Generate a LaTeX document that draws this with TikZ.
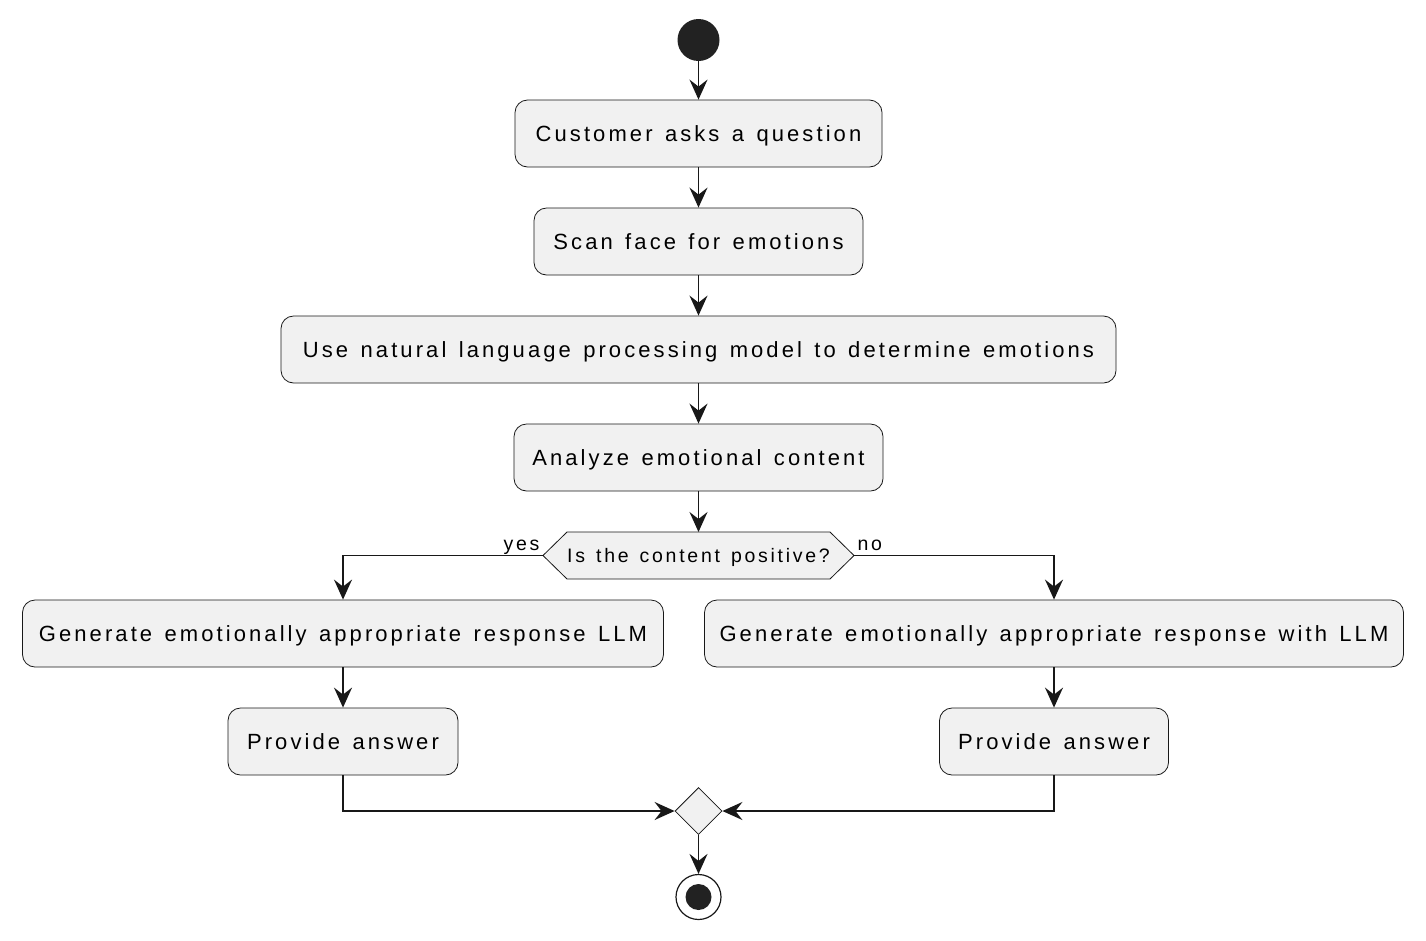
\documentclass[tikz,border=0pt]{standalone}
\usepackage{fontspec}
\setmainfont{Liberation Sans}[LetterSpace=14, WordSpace=1.35]
\usetikzlibrary{arrows.meta,shapes.geometric}
\definecolor{boxfill}{HTML}{F1F1F1}
\definecolor{ink}{HTML}{181818}
\definecolor{dot}{HTML}{222222}
\begin{document}
\begin{tikzpicture}[x=1pt,y=-1pt,
    >={Stealth[length=20pt,width=18pt,inset=7pt]},
    act/.style={draw=ink, fill=boxfill, rounded corners=12.5pt, minimum height=67pt,
      inner sep=0pt, line width=0.8pt, text height=20pt, text depth=4pt,
      font=\fontsize{22}{26}\selectfont},
    small/.style={font=\fontsize{19.5}{23}\selectfont},
    flow/.style={->, draw=ink, line width=1.8pt}]

  \useasboundingbox (0,0) rectangle (1426,940);

  \node[circle, fill=dot, minimum size=42pt, inner sep=0pt] (start) at (698.5,40) {};
  \node[act, minimum width=367pt] (ask)  at (698.5,133.5) {Customer asks a question};
  \node[act, minimum width=329pt] (scan) at (698.5,241.5) {Scan face for emotions};
  \node[act, minimum width=835pt] (nlp)  at (698.5,349.5) {Use natural language processing model to determine emotions};
  \node[act, minimum width=369pt] (ana)  at (698.5,457.5) {Analyze emotional content};

  % decision
  \coordinate (decL) at (543,555.5);
  \coordinate (decR) at (854,555.5);
  \draw[draw=ink, fill=boxfill, line width=0.8pt] (decL) -- ++(24,-23.5) -- ++(263,0)
    -- (decR) -- ++(-24,23.5) -- ++(-263,0) -- cycle;
  \node[small, minimum width=263pt, minimum height=47pt, inner sep=0pt,
    text height=17pt, text depth=4pt] (dec) at (698.5,555.5) {Is the content positive?};
  \node[small, anchor=base east] (yes) at ([yshift=5pt]decL) {yes};
  \node[small, anchor=base west] (no)  at ([yshift=5pt]decR) {no};

  \node[act, minimum width=641pt] (lgen) at (343,633.5) {Generate emotionally appropriate response LLM};
  \node[act, minimum width=699pt] (rgen) at (1054,633.5) {Generate emotionally appropriate response with LLM};
  \node[act, minimum width=230pt] (lans) at (343,741.5) {Provide answer};
  \node[act, minimum width=229pt] (rans) at (1054,741.5) {Provide answer};

  \node[diamond, draw=ink, fill=boxfill, line width=0.8pt, minimum size=47pt, inner sep=0pt] (merge) at (698.5,811) {};
  \node[circle, draw=ink, line width=1.2pt, minimum size=45pt, inner sep=0pt] (stop) at (698.5,897) {};
  \node[circle, fill=dot, minimum size=26pt, inner sep=0pt] (stopin) at (stop.center) {};

  \draw[flow] (start) -- (ask);
  \draw[flow] (ask) -- (scan);
  \draw[flow] (scan) -- (nlp);
  \draw[flow] (nlp) -- (ana);
  \draw[flow] (ana) -- (698.5,532);
  \draw[flow] (decL) -| (lgen);
  \draw[flow] (decR) -| (rgen);
  \draw[flow] (lgen) -- (lans);
  \draw[flow] (rgen) -- (rans);
  \draw[flow] (lans) |- (merge);
  \draw[flow] (rans) |- (merge);
  \draw[flow] (merge) -- (stop);
\end{tikzpicture}
\end{document}
